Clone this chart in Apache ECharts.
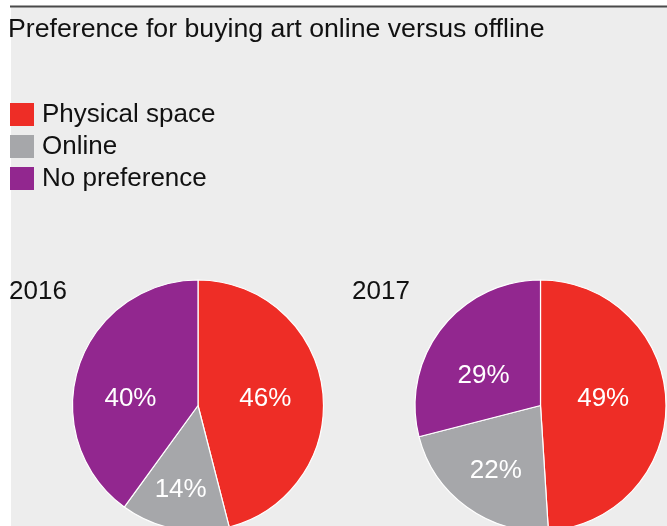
<!DOCTYPE html>
<html>
<head>
<meta charset="utf-8">
<script src="https://cdn.jsdelivr.net/npm/echarts@6/dist/echarts.min.js"></script>
<style>
html,body{margin:0;padding:0;background:#fff;}
#main{width:667px;height:526px;}
</style>
</head>
<body>
<div id="main"></div>
<script>
var chartTitle = 'Preference for buying art online versus offline';
var categories = ['Physical space', 'Online', 'No preference'];
var years = ['2016', '2017'];
var values2016 = [46, 14, 40];
var values2017 = [49, 22, 29];

var colors = ['#EE2D26', '#A6A7AA', '#92278F'];
var FONT = '"Liberation Sans", Arial, Helvetica, sans-serif';

// label nudges (dx, dy) in px per slice, relative to the default inside position
var nudges = [
  [[2, 2], [-5, 20], [-5, 14]],
  [[-3, -5], [-6, 12], [-5, 11]]
];
function buildData(vals, yi) {
  return categories.map(function (c, i) {
    return {
      name: c,
      value: vals[i],
      itemStyle: { color: colors[i] },
      label: { offset: nudges[yi][i] }
    };
  });
}

var chart = echarts.init(document.getElementById('main'), null, { renderer: 'canvas' });
var pieCommon = {
  type: 'pie',
  radius: 125.5,
  startAngle: 90,
  clockwise: true,
  avoidLabelOverlap: false,
  silent: true,
  label: {
    show: true,
    position: 'inside',
    formatter: '{c}%',
    color: '#fff',
    fontSize: 26,
    fontFamily: FONT
  },
  labelLine: { show: false },
  itemStyle: { borderColor: '#fff', borderWidth: 1.2 },
  emphasis: { disabled: true }
};

var titleStyle = { fontSize: 26, fontWeight: 'normal', color: '#111', fontFamily: FONT };

chart.setOption({
  animation: false,
  backgroundColor: '#ffffff',
  graphic: [
    { type: 'rect', z: -10, shape: { x: 11, y: 7, width: 656, height: 519 }, style: { fill: '#EDEDED' } },
    { type: 'rect', z: -9, shape: { x: 10, y: 5.5, width: 657, height: 2 }, style: { fill: '#4a4a4a' } }
  ],
  title: [
    { text: chartTitle, left: 8, top: 16, padding: 0, textStyle: Object.assign({}, titleStyle, { fontSize: 26.7 }) },
    { text: years[0], left: 9, top: 279, padding: 0, textStyle: titleStyle },
    { text: years[1], left: 352, top: 279, padding: 0, textStyle: titleStyle }
  ],
  legend: {
    orient: 'vertical',
    left: 10,
    top: 101.5,
    padding: 0,
    icon: 'rect',
    itemWidth: 24,
    itemHeight: 23,
    itemGap: 6,
    selectedMode: false,
    data: categories,
    itemStyle: { borderWidth: 0 },
    textStyle: { fontSize: 26, color: '#111', fontFamily: FONT, padding: [0, 0, 0, 3] }
  },
  series: [
    Object.assign({}, pieCommon, { name: years[0], center: [198, 405.5], data: buildData(values2016, 0) }),
    Object.assign({}, pieCommon, { name: years[1], center: [540.5, 405.5], data: buildData(values2017, 1) })
  ]
});
</script>
</body>
</html>
